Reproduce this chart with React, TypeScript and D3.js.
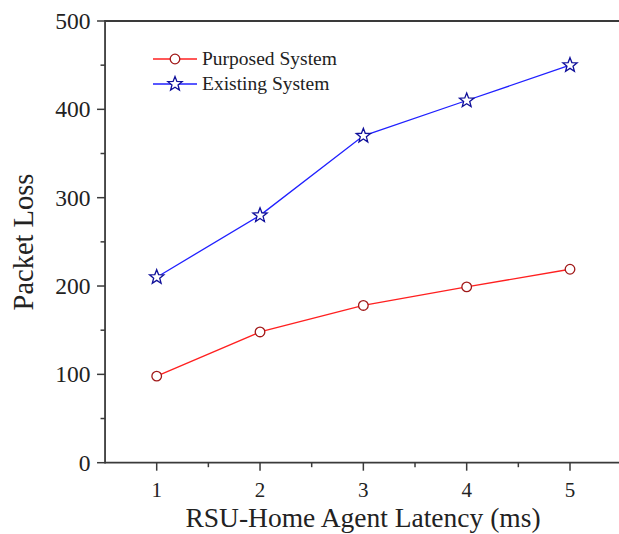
import React from "react";
import * as d3 from "d3";

const latency = [1, 2, 3, 4, 5];
const purposed = [98, 148, 178, 199, 219];
const existing = [210, 280, 370, 410, 450];
const yTicks = [0, 100, 200, 300, 400, 500];
const yMinor = [50, 150, 250, 350, 450];
const xMinor = [1.5, 2.5, 3.5, 4.5, 5.5];
const seriesNames = ["Purposed System", "Existing System"];

const W = 619, H = 534;

function starPath(cx: number, cy: number, R: number, r: number) {
  const pts: string[] = [];
  for (let i = 0; i < 10; i++) {
    const a = -Math.PI / 2 + (i * Math.PI) / 5;
    const rr = i % 2 === 0 ? R : r;
    pts.push(`${(cx + rr * Math.cos(a)).toFixed(2)},${(cy + rr * Math.sin(a)).toFixed(2)}`);
  }
  return "M" + pts.join("L") + "Z";
}

export default function App() {
  const x = d3.scaleLinear().domain([1, 5]).range([156.7, 570]);
  const y = d3.scaleLinear().domain([0, 500]).range([462.7, 21]);
  const axisLeft = x(0.5);
  const font = "'Liberation Serif', 'Times New Roman', serif";
  const axisColor = "#3a3a3a";

  const line = d3
    .line<number>()
    .x((_, i) => x(latency[i]))
    .y((d) => y(d));

  const pPath = line(purposed) || "";
  const ePath = line(existing) || "";

  return (
    <svg
      width={W}
      height={H}
      style={{ position: "absolute", left: 0, top: 0, background: "#fff" }}
      fontFamily={font}
    >
      {/* top line */}
      <line x1={axisLeft} x2={W} y1={y(500)} y2={y(500)} stroke={axisColor} strokeWidth={1.8} />
      {/* y axis */}
      <line x1={axisLeft} x2={axisLeft} y1={y(500) - 0.9} y2={y(0) + 0.9} stroke={axisColor} strokeWidth={1.8} />
      {yTicks.map((t) => (
        <g key={"yt" + t}>
          <line x1={axisLeft - 8} x2={axisLeft} y1={y(t)} y2={y(t)} stroke={axisColor} strokeWidth={1.5} />
          <text x={axisLeft - 14.5} y={y(t)} dy="0.34em" textAnchor="end" fontSize={23.5} fill="#222">
            {t}
          </text>
        </g>
      ))}
      {yMinor.map((t) => (
        <line key={"ym" + t} x1={axisLeft - 4.5} x2={axisLeft} y1={y(t)} y2={y(t)} stroke={axisColor} strokeWidth={1.5} />
      ))}
      {/* x axis */}
      <line x1={axisLeft} x2={W} y1={y(0)} y2={y(0)} stroke={axisColor} strokeWidth={1.8} />
      {latency.map((t) => (
        <g key={"xt" + t}>
          <line x1={x(t)} x2={x(t)} y1={y(0)} y2={y(0) + 8} stroke={axisColor} strokeWidth={1.5} />
          <text x={x(t)} y={y(0) + 34.5} textAnchor="middle" fontSize={21} fill="#222">
            {t}
          </text>
        </g>
      ))}
      {xMinor.map((t) => (
        <line key={"xm" + t} x1={x(t)} x2={x(t)} y1={y(0)} y2={y(0) + 4.5} stroke={axisColor} strokeWidth={1.5} />
      ))}
      {/* axis titles */}
      <text x={363} y={527} textAnchor="middle" fontSize={27.5} fill="#222">
        RSU-Home Agent Latency (ms)
      </text>
      <text
        transform={`translate(33,242) rotate(-90)`}
        textAnchor="middle"
        fontSize={28.5}
        fill="#222"
      >
        Packet Loss
      </text>

      {/* series lines */}
      <path d={pPath} fill="none" stroke="#ff2020" strokeWidth={1.3} />
      <path d={ePath} fill="none" stroke="#2020ff" strokeWidth={1.3} />
      {purposed.map((v, i) => (
        <circle key={"pc" + i} cx={x(latency[i])} cy={y(v)} r={4.8} fill="#fff" stroke="#a01818" strokeWidth={1.3} />
      ))}
      {existing.map((v, i) => (
        <path key={"es" + i} d={starPath(x(latency[i]), y(v), 7.5, 3.2)} fill="#fff" stroke="#10109a" strokeWidth={1.3} />
      ))}

      {/* legend */}
      <g>
        <line x1={153} x2={197} y1={59} y2={59} stroke="#ff2020" strokeWidth={1.3} />
        <circle cx={175} cy={59} r={4.8} fill="#fff" stroke="#a01818" strokeWidth={1.3} />
        <text x={202} y={59} dy="0.33em" fontSize={19.5} fill="#222">
          {seriesNames[0]}
        </text>
        <line x1={153} x2={197} y1={84} y2={84} stroke="#2020ff" strokeWidth={1.3} />
        <path d={starPath(175, 84, 7.5, 3.2)} fill="#fff" stroke="#10109a" strokeWidth={1.3} />
        <text x={202} y={84} dy="0.33em" fontSize={19.5} fill="#222">
          {seriesNames[1]}
        </text>
      </g>
    </svg>
  );
}
